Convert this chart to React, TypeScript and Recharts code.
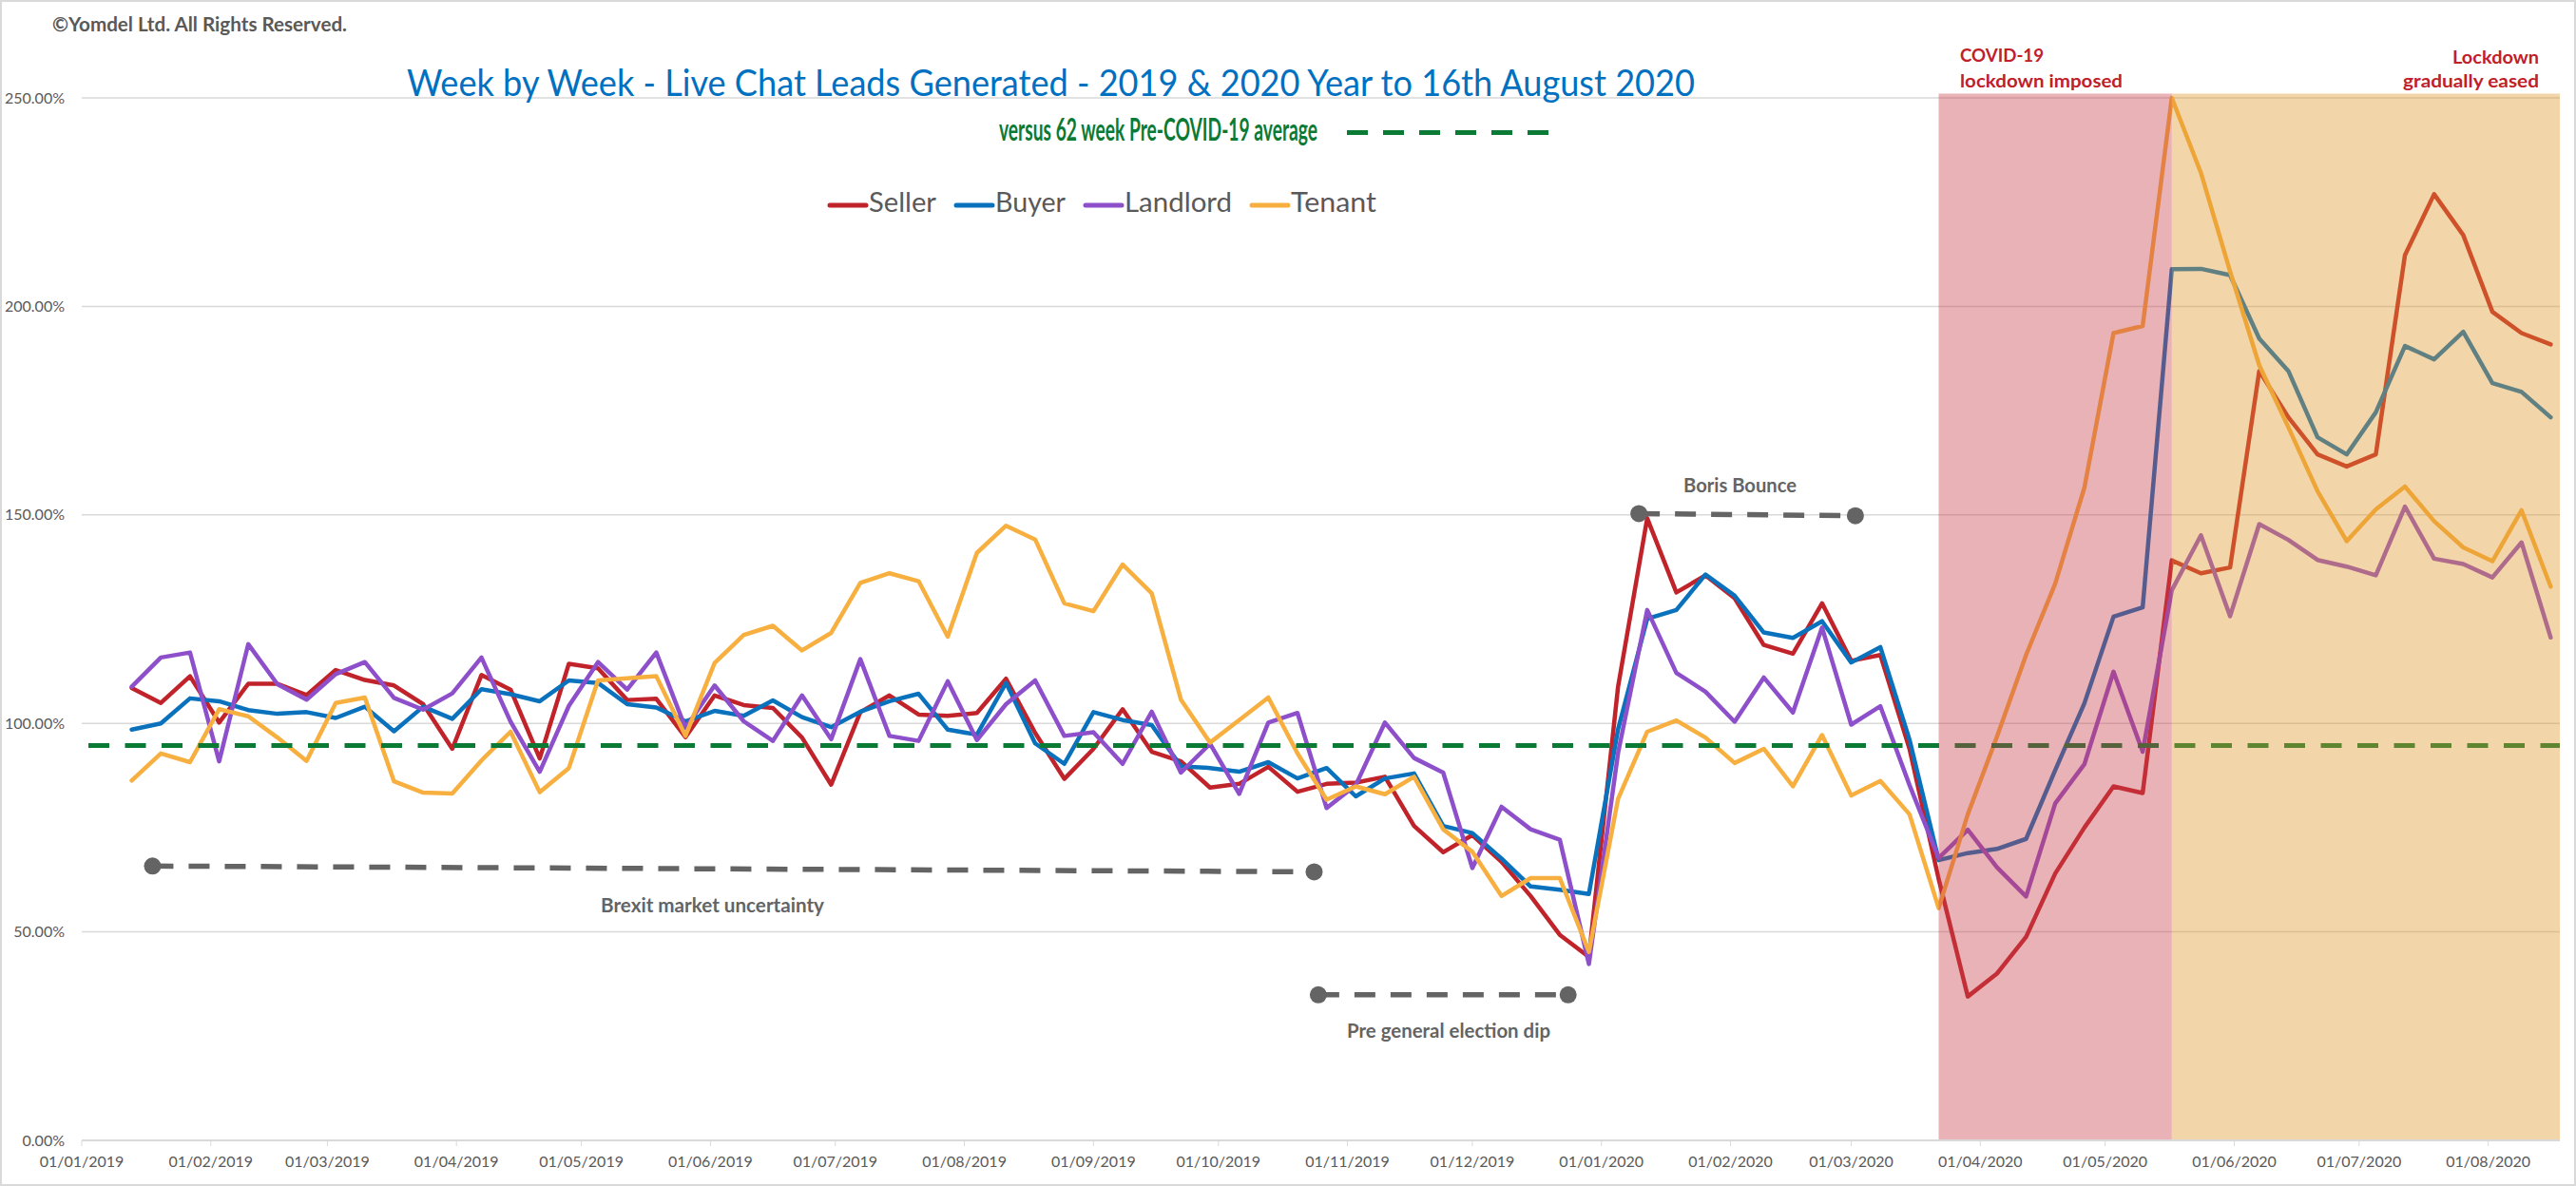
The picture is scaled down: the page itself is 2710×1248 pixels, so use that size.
import {
  LineChart,
  Line,
  XAxis,
  YAxis,
  CartesianGrid,
  ReferenceLine,
  ReferenceArea,
  ReferenceDot,
  Legend
} from "recharts";

const W = 2710;
const H = 1248;
const FONT = "Lato, 'Open Sans', sans-serif";
const DAY = 86400000;

// week ending dates (Sundays)
const weekEnding = [
  "2019-01-13", "2019-01-20", "2019-01-27", "2019-02-03", "2019-02-10", "2019-02-17", "2019-02-24",
  "2019-03-03", "2019-03-10", "2019-03-17", "2019-03-24", "2019-03-31",
  "2019-04-07", "2019-04-14", "2019-04-21", "2019-04-28",
  "2019-05-05", "2019-05-12", "2019-05-19", "2019-05-26",
  "2019-06-02", "2019-06-09", "2019-06-16", "2019-06-23", "2019-06-30",
  "2019-07-07", "2019-07-14", "2019-07-21", "2019-07-28",
  "2019-08-04", "2019-08-11", "2019-08-18", "2019-08-25",
  "2019-09-01", "2019-09-08", "2019-09-15", "2019-09-22", "2019-09-29",
  "2019-10-06", "2019-10-13", "2019-10-20", "2019-10-27",
  "2019-11-03", "2019-11-10", "2019-11-17", "2019-11-24",
  "2019-12-01", "2019-12-08", "2019-12-15", "2019-12-22", "2019-12-29",
  "2020-01-05", "2020-01-12", "2020-01-19", "2020-01-26",
  "2020-02-02", "2020-02-09", "2020-02-16", "2020-02-23",
  "2020-03-01", "2020-03-08", "2020-03-15", "2020-03-22", "2020-03-29",
  "2020-04-05", "2020-04-12", "2020-04-19", "2020-04-26",
  "2020-05-03", "2020-05-10", "2020-05-17", "2020-05-24", "2020-05-31",
  "2020-06-07", "2020-06-14", "2020-06-21", "2020-06-28",
  "2020-07-05", "2020-07-12", "2020-07-19", "2020-07-26",
  "2020-08-02", "2020-08-09", "2020-08-16"
];

const seller = [
  108.5, 104.9, 111.3, 100.2, 109.5, 109.5, 106.8, 112.8, 110.4, 109.1, 104.6, 93.9, 111.6, 108.1,
  91.6, 114.3, 113.2, 105.6, 105.9, 96.7, 106.7, 104.4, 103.7, 96.6, 85.3, 102.7, 106.7, 102.1,
  101.8, 102.5, 110.7, 97.7, 86.7, 93.9, 103.4, 93.2, 90.9, 84.6, 85.5, 89.6, 83.6, 85.5,
  85.8, 87.2, 75.4, 69.1, 73.2, 66.8, 58.6, 49.3, 44.0, 108.8, 149.2, 131.4, 135.5, 130.0,
  118.8, 116.7, 128.8, 115.0, 116.4, 93.9, 62.7, 34.5, 40.0, 48.8, 64.0, 75.0, 84.9, 83.3,
  139.1, 136.0, 137.4, 184.5, 173.4, 164.5, 161.6, 164.5, 212.3, 226.9, 217.1, 198.7, 193.6, 190.9
];

const buyer = [
  98.5, 100.0, 106.0, 105.3, 103.2, 102.3, 102.7, 101.3, 104.0, 98.1, 104.0, 101.1, 108.2, 107.0,
  105.3, 110.3, 109.7, 104.6, 103.8, 100.5, 103.0, 101.8, 105.5, 101.5, 99.1, 102.8, 105.3, 107.1,
  98.5, 97.3, 109.7, 95.2, 90.3, 102.7, 100.8, 99.6, 89.7, 89.3, 88.4, 90.7, 86.8, 89.3,
  82.5, 86.8, 88.0, 75.4, 73.7, 67.6, 60.9, 60.1, 59.1, 98.6, 125.1, 127.2, 135.7, 130.6,
  121.8, 120.5, 124.5, 114.6, 118.3, 96.1, 67.2, 68.9, 69.9, 72.3, 88.8, 104.8, 125.6, 127.8,
  208.9, 209.0, 207.5, 192.3, 184.5, 168.6, 164.5, 174.6, 190.5, 187.3, 193.9, 181.6, 179.5, 173.4
];

const landlord = [
  108.8, 115.8, 117.0, 90.9, 119.0, 109.4, 105.7, 111.8, 114.7, 106.1, 103.3, 107.2, 115.8, 100.4,
  88.4, 104.2, 114.7, 108.1, 117.0, 98.9, 109.1, 100.5, 95.8, 106.7, 96.2, 115.4, 97.0, 95.8,
  110.1, 96.0, 104.6, 110.3, 97.0, 97.9, 90.3, 102.8, 88.2, 95.1, 83.1, 100.2, 102.5, 79.7,
  85.2, 100.2, 91.7, 88.2, 65.3, 80.0, 74.6, 72.1, 42.3, 92.9, 127.2, 112.1, 107.6, 100.4,
  111.0, 102.6, 123.0, 99.7, 104.1, 85.2, 67.7, 74.5, 65.5, 58.5, 80.8, 90.2, 112.4, 93.2,
  131.9, 145.1, 125.7, 147.8, 144.0, 139.2, 137.6, 135.5, 152.0, 139.5, 138.2, 135.0, 143.4, 120.6
];

const tenant = [
  86.3, 92.8, 90.7, 103.4, 101.7, 96.6, 91.0, 104.9, 106.2, 86.1, 83.4, 83.2, 91.1, 98.0,
  83.5, 89.3, 110.3, 110.8, 111.3, 97.0, 114.5, 121.2, 123.4, 117.5, 121.7, 133.7, 136.0, 134.1,
  120.8, 140.9, 147.4, 144.1, 128.8, 126.9, 138.1, 131.2, 105.7, 95.4, 100.8, 106.2, 92.8, 81.7,
  84.9, 83.0, 87.2, 74.6, 69.2, 58.6, 62.9, 62.9, 45.2, 81.9, 98.0, 100.7, 96.6, 90.5,
  93.9, 84.9, 97.2, 82.7, 86.2, 78.2, 55.7, 78.2, 96.8, 116.4, 133.5, 156.5, 193.6, 195.3,
  250.0, 232.0, 208.4, 185.9, 171.0, 155.7, 143.7, 151.3, 156.8, 148.5, 142.2, 138.9, 151.1, 132.8
];

// 62 week pre-COVID-19 average
const preCovidAverage = 94.7;

const monthTickLabels = [
  "01/01/2019", "01/02/2019", "01/03/2019", "01/04/2019", "01/05/2019", "01/06/2019", "01/07/2019",
  "01/08/2019", "01/09/2019", "01/10/2019", "01/11/2019", "01/12/2019", "01/01/2020", "01/02/2020",
  "01/03/2020", "01/04/2020", "01/05/2020", "01/06/2020", "01/07/2020", "01/08/2020"
];
const yTicks = [0, 50, 100, 150, 200, 250];

const lockdownImposed = ["2020-03-22", "2020-05-17"];
const lockdownEased = "2020-05-17";

// dashed callouts: [start date, start %, end date, end %]
const callouts = [
  { id: "brexit", from: "2019-01-18", y1: 65.8, to: "2019-10-24", y2: 64.4 },
  { id: "election", from: "2019-10-25", y1: 34.9, to: "2019-12-24", y2: 34.9 },
  { id: "boris", from: "2020-01-10", y1: 150.3, to: "2020-03-02", y2: 149.8 }
];

const series = [
  { key: "seller", name: "Seller", color: "#c1232b", values: seller },
  { key: "buyer", name: "Buyer", color: "#0a72bd", values: buyer },
  { key: "landlord", name: "Landlord", color: "#8e4fcb", values: landlord },
  { key: "tenant", name: "Tenant", color: "#f7b040", values: tenant }
];

const toTime = (s: string) => {
  const [y, m, d] = s.split("-").map(Number);
  return Date.UTC(y, m - 1, d);
};
const fromLabel = (s: string) => {
  const [d, m, y] = s.split("/").map(Number);
  return Date.UTC(y, m - 1, d);
};
const pad = (n: number) => (n < 10 ? "0" + n : "" + n);
const fmtDate = (t: number) => {
  const d = new Date(t);
  return `${pad(d.getUTCDate())}/${pad(d.getUTCMonth() + 1)}/${d.getUTCFullYear()}`;
};

const xStart = toTime("2019-01-01");
const xEnd = xStart + 595.2 * DAY;
const monthTicks = monthTickLabels.map(fromLabel);

const rows = weekEnding.map((w, i) => {
  const row: Record<string, number> = { t: toTime(w) };
  series.forEach((s) => {
    row[s.key] = s.values[i];
  });
  return row;
});

const GREY = "#595959";
const GREEN = "#0b7a35";
const DARK_RED = "#c0202a";
const CALLOUT = "#646464";

const legendTextWidths = [71, 74, 113, 90];

function LegendBox() {
  let x = 11;
  const items = series.map((s, i) => {
    const lx = x;
    const tx = lx + 43;
    x = tx + legendTextWidths[i] + 19;
    return (
      <g key={s.key}>
        <line x1={lx + 2} x2={lx + 40} y1={22} y2={22} stroke={s.color} strokeWidth={5} strokeLinecap="round" />
        <text x={tx} y={29} fontSize={28} fill={GREY} fontFamily={FONT} textLength={legendTextWidths[i]} lengthAdjust="spacingAndGlyphs">
          {s.name}
        </text>
      </g>
    );
  });
  return (
    <svg width={620} height={42} style={{ display: "block" }}>
      {items}
    </svg>
  );
}

type TxtProps = {
  x: number;
  y: number;
  w: number;
  size: number;
  fill: string;
  bold?: boolean;
  anchor?: "start" | "end";
  children: string;
};

function Txt({ x, y, w, size, fill, bold, anchor, children }: TxtProps) {
  return (
    <text
      x={x}
      y={y}
      fontSize={size}
      fontWeight={bold ? 700 : 400}
      fill={fill}
      fontFamily={FONT}
      textAnchor={anchor || "start"}
      textLength={w}
      lengthAdjust="spacingAndGlyphs"
    >
      {children}
    </text>
  );
}

export default function App() {
  return (
    <div style={{ position: "absolute", left: 0, top: 0, width: W, height: H, background: "#fff" }}>
      <LineChart width={W} height={H} data={rows} margin={{ top: 103, right: 17, bottom: 8, left: 0 }}>
        <CartesianGrid vertical={false} stroke="#d9d9d9" strokeWidth={1.5} />
        <XAxis
          dataKey="t"
          type="number"
          domain={[xStart, xEnd]}
          ticks={monthTicks}
          interval={0}
          tickFormatter={fmtDate}
          height={40}
          tickSize={6}
          tickMargin={11}
          tick={{ fill: GREY, fontSize: 16, fontFamily: FONT }}
          tickLine={{ stroke: "#d9d9d9" }}
          axisLine={{ stroke: "#d9d9d9", strokeWidth: 2 }}
          allowDataOverflow
        />
        <YAxis
          domain={[0, 250]}
          ticks={yTicks}
          tickFormatter={(v: number) => `${v.toFixed(2)}%`}
          width={86}
          axisLine={false}
          tickLine={false}
          tickMargin={12}
          tick={{ fill: GREY, fontSize: 16, fontFamily: FONT }}
        />
        <ReferenceLine
          y={preCovidAverage}
          stroke={GREEN}
          strokeWidth={5}
          strokeDasharray="22 16.5"
          strokeDashoffset={31.5}
          zIndex={420}
        />
        {series.map((s) => (
          <Line
            key={s.key}
            dataKey={s.key}
            name={s.name}
            type="linear"
            stroke={s.color}
            strokeWidth={4.5}
            strokeLinejoin="round"
            strokeLinecap="round"
            dot={false}
            activeDot={false}
            isAnimationActive={false}
          />
        ))}
        <ReferenceArea
          x1={toTime(lockdownImposed[0])}
          x2={toTime(lockdownImposed[1])}
          y1={0}
          y2={251}
          fill="#c83e48"
          fillOpacity={0.4}
          stroke="none"
          ifOverflow="visible"
          zIndex={450}
        />
        <ReferenceArea
          x1={toTime(lockdownEased)}
          x2={xEnd}
          y1={0}
          y2={251}
          fill="#e1962a"
          fillOpacity={0.4}
          stroke="none"
          ifOverflow="visible"
          zIndex={450}
        />
        {callouts.map((c) => (
          <ReferenceLine
            key={c.id}
            segment={[
              { x: toTime(c.from), y: c.y1 },
              { x: toTime(c.to), y: c.y2 }
            ]}
            stroke={CALLOUT}
            strokeWidth={5.5}
            strokeDasharray="22 16"
            zIndex={460}
          />
        ))}
        {callouts.map((c) => [
          <ReferenceDot key={c.id + "a"} x={toTime(c.from)} y={c.y1} r={9} fill={CALLOUT} stroke="none" zIndex={470} />,
          <ReferenceDot key={c.id + "b"} x={toTime(c.to)} y={c.y2} r={9} fill={CALLOUT} stroke="none" zIndex={470} />
        ])}
        <Legend
          layout="horizontal"
          verticalAlign="middle"
          align="center"
          content={() => <LegendBox />}
          wrapperStyle={{ position: "absolute", left: 860, top: 194, width: 620, height: 42 }}
        />
      </LineChart>
      <svg width={W} height={H} style={{ position: "absolute", left: 0, top: 0, pointerEvents: "none" }}>
        <rect x={1} y={1} width={W - 2} height={H - 2} fill="none" stroke="#d9d9d9" strokeWidth={2} />
        <Txt x={55} y={33} w={310} size={21} fill={GREY} bold>
          ©Yomdel Ltd. All Rights Reserved.
        </Txt>
        <Txt x={428} y={101} w={1355} size={38} fill="#0070c0">
          Week by Week - Live Chat Leads Generated - 2019 &amp; 2020 Year to 16th August 2020
        </Txt>
        <Txt x={1051} y={148} w={335} size={32} fill={GREEN} bold>
          versus 62 week Pre-COVID-19 average
        </Txt>
        <line x1={1417} x2={1630} y1={139.5} y2={139.5} stroke={GREEN} strokeWidth={5} strokeDasharray="22 16" />
        <Txt x={2062} y={65} w={88} size={18} fill={DARK_RED} bold>
          COVID-19
        </Txt>
        <Txt x={2062} y={92} w={171} size={18} fill={DARK_RED} bold>
          lockdown imposed
        </Txt>
        <Txt x={2671} y={67} w={91} size={18} fill={DARK_RED} bold anchor="end">
          Lockdown
        </Txt>
        <Txt x={2671} y={92} w={143} size={18} fill={DARK_RED} bold anchor="end">
          gradually eased
        </Txt>
        <Txt x={632} y={960} w={235} size={20} fill={CALLOUT} bold>
          Brexit market uncertainty
        </Txt>
        <Txt x={1417} y={1092} w={214} size={20} fill={CALLOUT} bold>
          Pre general election dip
        </Txt>
        <Txt x={1771} y={518} w={119} size={20} fill={CALLOUT} bold>
          Boris Bounce
        </Txt>
      </svg>
    </div>
  );
}
